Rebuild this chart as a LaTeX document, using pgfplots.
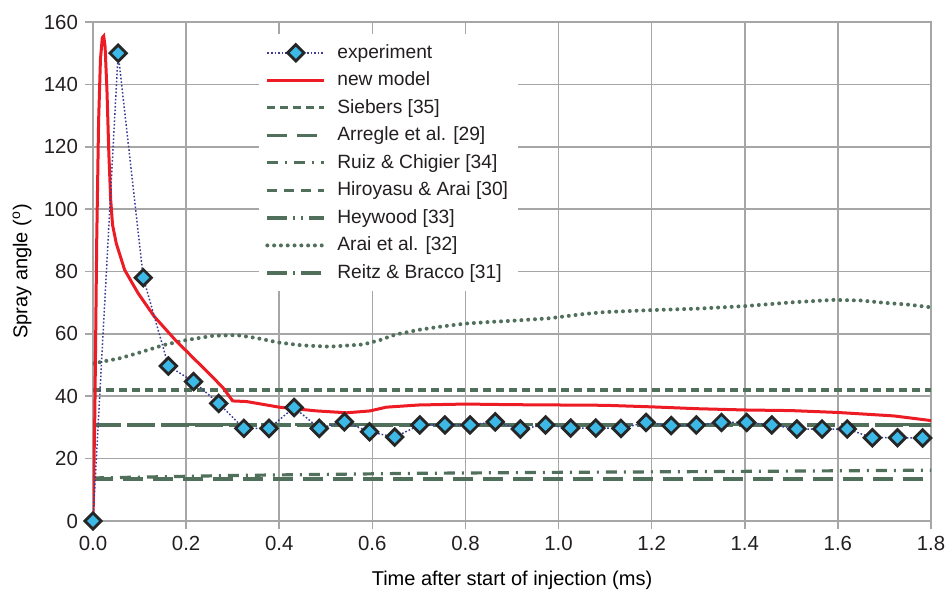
\documentclass[border=0pt]{standalone}
\usepackage{fontspec}
\setmainfont{Liberation Sans}
\usepackage{pgfplots}
\pgfplotsset{compat=1.18}
\usetikzlibrary{calc}

\definecolor{gridgray}{RGB}{166,166,166}
\definecolor{textdark}{RGB}{35,31,32}
\definecolor{corrgreen}{RGB}{80,112,92}
\definecolor{modelred}{RGB}{237,28,36}
\definecolor{expblue}{RGB}{60,60,150}
\definecolor{expfill}{RGB}{60,185,230}

\pgfplotstableread{
t     angle
0.000 0
0.054 150
0.108 78
0.162 49.7
0.216 44.7
0.270 37.7
0.324 29.7
0.378 29.7
0.432 36.4
0.486 29.7
0.540 31.8
0.594 28.6
0.648 26.9
0.702 30.8
0.756 30.8
0.810 30.8
0.864 31.8
0.918 29.5
0.972 30.8
1.026 29.8
1.080 29.8
1.134 29.7
1.188 31.6
1.242 30.6
1.296 30.8
1.350 31.6
1.404 31.6
1.458 30.8
1.512 29.5
1.566 29.5
1.620 29.5
1.674 26.7
1.728 26.7
1.782 26.6
}\experiment

\pgfplotstableread{
t     angle
0.000 0
0.004 35
0.008 90
0.012 128
0.016 148
0.020 155
0.023 155.5
0.026 152
0.030 138
0.034 118
0.038 103
0.042 95
0.050 89
0.068 80.5
0.097 73
0.132 65.5
0.180 57.5
0.200 54.6
0.220 51.6
0.250 47.2
0.280 42.6
0.300 38.5
0.330 38.3
0.400 36.5
0.480 35.3
0.545 34.7
0.595 35.3
0.630 36.5
0.700 37.2
0.800 37.5
0.900 37.3
1.000 37.2
1.100 37.1
1.200 36.6
1.300 36.0
1.400 35.6
1.500 35.4
1.600 34.8
1.720 33.7
1.800 32.2
}\newmodel

\pgfplotstableread{
t     angle
0.000 50.5
0.058 52.2
0.100 54.0
0.151 56.4
0.200 58.0
0.258 59.4
0.309 59.6
0.350 58.7
0.400 57.2
0.450 56.3
0.509 55.9
0.580 56.6
0.616 58.0
0.650 59.8
0.700 61.3
0.750 62.4
0.800 63.3
0.850 63.8
0.900 64.2
0.980 65.0
1.050 66.3
1.100 67.0
1.196 67.6
1.300 68.1
1.400 68.9
1.500 70.1
1.590 70.9
1.650 70.7
1.697 70.0
1.750 69.4
1.790 68.7
1.800 68.5
}\arai

\pgfplotstableread{
t     angle
0.000 13.8
0.300 14.6
0.700 15.3
1.000 15.6
1.500 16.0
1.800 16.3
}\ruiz

\tikzset{
  siebers/.style={corrgreen, line width=1.6pt, dash pattern=on 4pt off 2.5pt},
  arregle/.style={corrgreen, line width=1.6pt, dash pattern=on 10pt off 5pt},
  ruizst/.style={corrgreen, line width=1.6pt, dash pattern=on 5.5pt off 3.5pt on 1pt off 3.5pt},
  hiroyasu/.style={corrgreen, line width=1.6pt, dash pattern=on 5pt off 3.5pt},
  heywood/.style={corrgreen, line width=1.6pt, dash pattern=on 10pt off 3pt on 1pt off 3pt on 1pt off 3pt},
  araist/.style={corrgreen, line width=2pt, line cap=round, dash pattern=on 0pt off 3.4pt},
  reitz/.style={corrgreen, line width=1.6pt, dash pattern=on 10pt off 3pt on 1pt off 3pt},
  modelst/.style={modelred, line width=1.5pt},
  expst/.style={expblue, line width=0.75pt, dash pattern=on 0.8pt off 1pt,
    mark=square*, mark size=2.9pt,
    mark options={rotate=45, fill=expfill, draw=black!85, line width=1.4pt, solid}},
}

\begin{document}
\begin{tikzpicture}
\begin{axis}[
  scale only axis,
  width=419pt, height=249.5pt,
  xmin=0, xmax=1.8, ymin=0, ymax=160,
  xtick={0,0.2,0.4,0.6,0.8,1.0,1.2,1.4,1.6,1.8},
  ytick={0,20,40,60,80,100,120,140,160},
  xtick pos=bottom, ytick pos=left,
  tick align=outside, major tick length=4pt,
  grid=major,
  grid style={gridgray, line width=0.8pt},
  axis line style={gridgray, line width=0.8pt},
  tick style={gridgray, line width=0.8pt},
  /pgf/number format/assume math mode=true,
  xticklabel style={/pgf/number format/.cd, fixed, fixed zerofill, precision=1},
  tick label style={font=\fontsize{10.2}{12}\selectfont, text=textdark},
  label style={font=\fontsize{10.8}{13}\selectfont, text=textdark},
  every axis x label/.style={at={(axis description cs:0.5,0)}, yshift=-29.5pt, anchor=center},
  every axis y label/.style={at={(axis description cs:0,0.5)}, xshift=-35.5pt, rotate=90, anchor=center},
  xlabel={Time after start of injection (ms)},
  ylabel={Spray angle (\textsuperscript{o})},
  legend cell align=left,
  legend style={draw=none, fill=white, at={(0.198,0.976)}, anchor=north west,
    font=\fontsize{9.6}{11.5}\selectfont, text=textdark, row sep=1.3pt, column sep=3.5pt,
    inner xsep=3pt, inner ysep=3pt},
  legend image code/.code={%
    \draw[mark repeat=2, mark phase=2, #1] plot coordinates {(0pt,0pt) (14.25pt,0pt) (28.5pt,0pt)};},
]
% legend entries, in the order of the key
\addlegendimage{expst}\addlegendentry{experiment}
\addlegendimage{modelst}\addlegendentry{new model}
\addlegendimage{siebers}\addlegendentry{Siebers [35]}
\addlegendimage{arregle}\addlegendentry{Arregle et al. [29]}
\addlegendimage{ruizst}\addlegendentry{Ruiz \& Chigier [34]}
\addlegendimage{hiroyasu}\addlegendentry{Hiroyasu \& Arai [30]}
\addlegendimage{heywood}\addlegendentry{Heywood [33]}
\addlegendimage{araist}\addlegendentry{Arai et al. [32]}
\addlegendimage{reitz}\addlegendentry{Reitz \& Bracco [31]}

% correlations
\addplot[siebers, forget plot] coordinates {(0,42) (1.8,42)};
\addplot[arregle, forget plot] coordinates {(0,13.5) (1.8,13.5)};
\addplot[ruizst, forget plot] table[x=t, y=angle] {\ruiz};
\addplot[hiroyasu, forget plot] coordinates {(0,30.8) (1.8,30.8)};
\addplot[heywood, forget plot] coordinates {(0,30.9) (1.8,30.9)};
\addplot[reitz, forget plot] coordinates {(0,30.8) (1.8,30.8)};
\addplot[araist, forget plot] table[x=t, y=angle] {\arai};
% model and measurement
\addplot[modelst, forget plot] table[x=t, y=angle] {\newmodel};
\addplot[expst, forget plot] table[x=t, y=angle] {\experiment};

\coordinate (bl) at (rel axis cs:0,0);
\coordinate (tr) at (rel axis cs:1,1);
\end{axis}
\pgfresetboundingbox
\path ($(bl)+(-46.5pt,-34.5pt)$) rectangle ($(tr)+(8pt,11pt)$);
\end{tikzpicture}
\end{document}
